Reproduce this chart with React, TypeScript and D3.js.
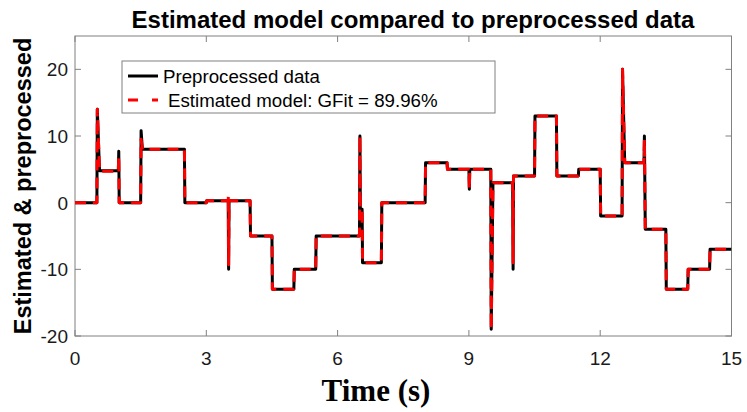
import React from "react";
import * as d3 from "d3";

const title = "Estimated model compared to preprocessed data";
const xLabel = "Time (s)";
const yLabel = "Estimated & preprocessed";
const legendLabels = ["Preprocessed data", "Estimated model: GFit = 89.96%"];

const xTicks = [0, 3, 6, 9, 12, 15];
const yTicks = [-20, -10, 0, 10, 20];

const dataTime = [0, 0.5, 0.51, 0.56, 0.99, 1.0, 1.01, 1.5, 1.51, 1.54, 2.5, 2.51, 3.0, 3.01, 3.5, 3.51, 3.52, 4.0, 4.01, 4.5, 4.51, 5.0, 5.01, 5.5, 5.51, 6.5, 6.51, 6.52, 6.56, 6.57, 7.0, 7.01, 8.0, 8.01, 8.5, 8.51, 9.0, 9.01, 9.02, 9.5, 9.51, 9.55, 10.0, 10.01, 10.02, 10.5, 10.51, 11.0, 11.01, 11.5, 11.51, 12.0, 12.01, 12.5, 12.51, 12.56, 13.0, 13.01, 13.03, 13.5, 13.51, 14.0, 14.01, 14.5, 14.51, 15];
const dataValue = [0, 0, 14, 4.8, 4.8, 7.7, 0, 0, 10.8, 8, 8, 0, 0, 0.3, 0.3, -10, 0.3, 0.3, -5, -5, -13, -13, -10, -10, -5, -5, 10, -1, -1, -9, -9, 0, 0, 6, 6, 5, 5, 2, 5, 5, -19, 3, 3, -10, 4, 4, 13, 13, 4, 4, 5, 5, -2, -2, 20, 6, 6, 10, -4, -4, -13, -13, -10, -10, -7, -7];

const modelTime = [0, 0.5, 0.51, 0.56, 0.99, 1.0, 1.01, 1.5, 1.51, 1.54, 2.5, 2.51, 3.0, 3.01, 3.5, 3.505, 3.51, 3.52, 4.0, 4.01, 4.5, 4.51, 5.0, 5.01, 5.5, 5.51, 6.5, 6.51, 6.52, 6.56, 6.57, 7.0, 7.01, 8.0, 8.01, 8.5, 8.51, 9.0, 9.01, 9.02, 9.5, 9.51, 9.55, 10.0, 10.01, 10.02, 10.5, 10.51, 11.0, 11.01, 11.5, 11.51, 12.0, 12.01, 12.5, 12.51, 12.56, 13.0, 13.01, 13.03, 13.5, 13.51, 14.0, 14.01, 14.5, 14.51, 15];
const modelValue = [0, 0, 14, 4.7, 4.7, 7, 0, 0, 9.5, 8, 8, 0, 0, 0.3, 0.3, 1.1, -9.3, 0.3, 0.3, -5, -5, -13, -13, -10, -10, -5, -5, 10, -1, -1, -9, -9, 0, 0, 6, 6, 5, 5, 2, 5, 5, -19, 3, 3, -9, 4, 4, 13, 13, 4, 4, 5, 5, -2, -2, 20, 6, 6, 9.5, -4, -4, -13, -13, -10, -10, -7, -7];

const W = 747;
const H = 412;
const left = 75;
const right = 731.5;
const top = 36;
const bottom = 336;
const FONT = "'Liberation Sans', Arial, sans-serif";

export default function App() {
  const x = d3.scaleLinear().domain([0, 15]).range([left, right]);
  const y = d3.scaleLinear().domain([-20, 25]).range([bottom, top]);
  const line = d3
    .line<[number, number]>()
    .x((d) => x(d[0]))
    .y((d) => y(d[1]));
  const dataPts: [number, number][] = dataTime.map((t, i) => [t, dataValue[i]]);
  const modelPts: [number, number][] = modelTime.map((t, i) => [t, modelValue[i]]);
  const axisColor = "#808080";
  const tickLen = 6;

  return (
    <svg
      width={W}
      height={H}
      style={{ position: "absolute", left: 0, top: 0, background: "#fff" }}
    >
      <rect x={0} y={0} width={W} height={H} fill="#fff" />
      <defs>
        <clipPath id="plotClip">
          <rect x={left} y={top} width={right - left} height={bottom - top} />
        </clipPath>
      </defs>
      <rect
        x={left}
        y={top}
        width={right - left}
        height={bottom - top}
        fill="none"
        stroke={axisColor}
        strokeWidth={1}
      />
      {xTicks.map((t) => (
        <g key={"xt" + t}>
          <line x1={x(t)} x2={x(t)} y1={bottom} y2={bottom - tickLen} stroke={axisColor} />
          <line x1={x(t)} x2={x(t)} y1={top} y2={top + tickLen} stroke={axisColor} />
          <text
            x={x(t)}
            y={365}
            textAnchor="middle"
            fontFamily={FONT}
            fontSize={19}
            fill="#1a1a1a"
          >
            {t}
          </text>
        </g>
      ))}
      {yTicks.map((v) => (
        <g key={"yt" + v}>
          <line x1={left} x2={left + tickLen} y1={y(v)} y2={y(v)} stroke={axisColor} />
          <line x1={right} x2={right - tickLen} y1={y(v)} y2={y(v)} stroke={axisColor} />
          <text
            x={68}
            y={y(v)}
            dy="0.36em"
            textAnchor="end"
            fontFamily={FONT}
            fontSize={19}
            fill="#1a1a1a"
          >
            {v}
          </text>
        </g>
      ))}
      <g clipPath="url(#plotClip)">
        <path d={line(dataPts) || ""} fill="none" stroke="#000" strokeWidth={3} strokeLinejoin="round" />
        <path
          d={line(modelPts) || ""}
          fill="none"
          stroke="#ff0000"
          strokeWidth={3}
          strokeDasharray="11 7"
          strokeLinejoin="round"
        />
      </g>
      <rect x={122} y={61} width={373} height={52} fill="#fff" stroke={axisColor} strokeWidth={1} />
      <line x1={128} x2={158} y1={76} y2={76} stroke="#000" strokeWidth={3} />
      <line x1={128} x2={158} y1={100} y2={100} stroke="#ff0000" strokeWidth={3} strokeDasharray="10 14" />
      <text x={163} y={76} dy="0.36em" fontFamily={FONT} fontSize={18.7} fill="#000">
        {legendLabels[0]}
      </text>
      <text x={168} y={100} dy="0.36em" fontFamily={FONT} fontSize={18.7} fill="#000">
        {legendLabels[1]}
      </text>
      <text
        x={413}
        y={28}
        textAnchor="middle"
        fontFamily={FONT}
        fontWeight="bold"
        fontSize={24}
        fill="#000"
      >
        {title}
      </text>
      <text
        x={376}
        y={401}
        textAnchor="middle"
        fontFamily="'Liberation Serif', 'Times New Roman', serif"
        fontWeight="bold"
        fontSize={31}
        fill="#000"
      >
        {xLabel}
      </text>
      <text
        transform={`translate(31, 186) rotate(-90)`}
        textAnchor="middle"
        fontFamily={FONT}
        fontWeight="bold"
        fontSize={23.5}
        fill="#000"
      >
        {yLabel}
      </text>
    </svg>
  );
}
